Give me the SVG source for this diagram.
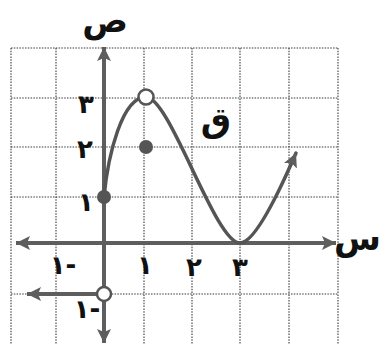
<svg xmlns="http://www.w3.org/2000/svg" width="383" height="344" viewBox="0 0 383 344">
<style>
.grid{stroke:#3a3a3a;stroke-width:1.1;stroke-dasharray:1.5 1.3;fill:none}
.axis{stroke:#5e5e5e;stroke-width:4;fill:none}
.curve{stroke:#555;stroke-width:3.5;fill:none;stroke-linecap:round}
.lbl{font-family:"DejaVu Sans",sans-serif;font-weight:bold;fill:#111;text-anchor:middle;direction:ltr;unicode-bidi:bidi-override}
.num{font-size:26px}
.big{font-size:34px}
</style>
<defs>
<marker id="ah" markerUnits="userSpaceOnUse" markerWidth="16" markerHeight="14" refX="14" refY="7" orient="auto">
<path d="M0,0 L14,7 L0,14 L3,7 Z" fill="#5e5e5e"/>
</marker>
</defs>
<rect width="383" height="344" fill="#fff"/>
<g id="grid">
<path class="grid" d="M11,48V344M56,48V344M144,48V344M192,48V344M240,48V344M289,48V344M338,48V344"/>
<path class="grid" d="M11,48H338M11,98H338M11,147H338M11,197H338M11,294H338"/>
</g>
<g id="connectors">
<line class="axis" x1="104" y1="243" x2="16" y2="243" marker-end="url(#ah)"/>
<line class="axis" x1="104" y1="243" x2="336" y2="243" marker-end="url(#ah)"/>
<line class="axis" x1="104" y1="243" x2="104" y2="47" marker-end="url(#ah)"/>
<line class="axis" x1="104" y1="243" x2="104" y2="343" marker-end="url(#ah)"/>
<line class="axis" x1="100" y1="294" x2="27" y2="294" marker-end="url(#ah)"/>
<path class="curve" d="M104,197 C108,155 122,97 146,97 C170,97 215,243 240,243 C255,243 280,190 296,153" marker-end="url(#ah)"/>
</g>
<g id="points">
<circle cx="104" cy="197" r="7" fill="#555"/>
<circle cx="146" cy="147" r="7" fill="#555"/>
<circle cx="146" cy="97" r="7.5" fill="#fff" stroke="#555" stroke-width="2.5"/>
<circle cx="104" cy="294" r="7" fill="#fff" stroke="#555" stroke-width="2.5"/>
</g>
<g id="labels">
<text class="lbl big" x="105" y="32">ص</text>
<text class="lbl big" x="381" y="250" style="text-anchor:end">س</text>
<text class="lbl big" x="216" y="132">ق</text>
<text class="lbl num" x="86" y="113">٣</text>
<text class="lbl num" x="85" y="158">٢</text>
<text class="lbl num" x="86" y="211">١</text>
<text class="lbl num" x="63" y="274">١-</text>
<text class="lbl num" x="145" y="274">١</text>
<text class="lbl num" x="194" y="276">٢</text>
<text class="lbl num" x="240" y="276">٣</text>
<text class="lbl num" x="87" y="318">١-</text>
</g>
</svg>
